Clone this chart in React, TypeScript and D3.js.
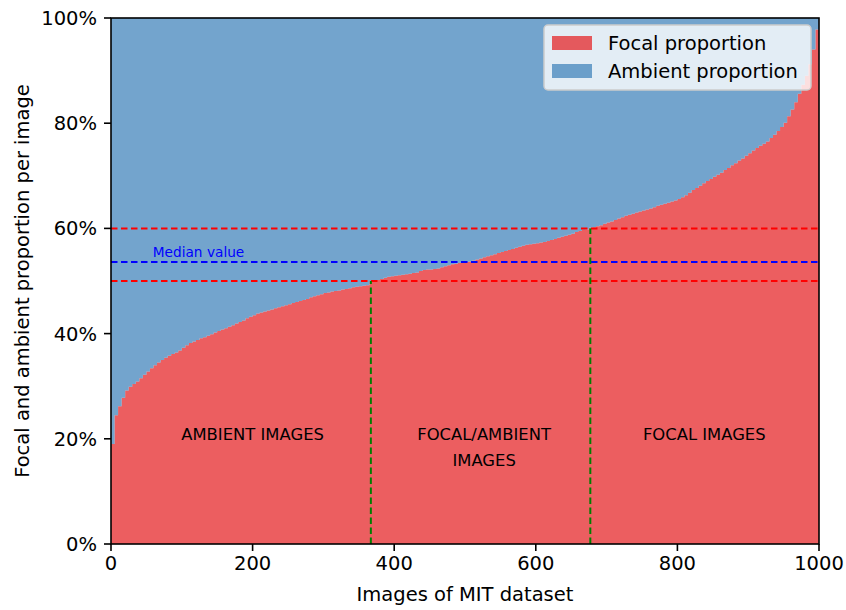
import * as React from "react";
import * as d3 from "d3";

// focal proportion (%) per image, sorted ascending, one value per 5-image bin
const BIN_SIZE = 5;
const focalPct: number[] = [
  19.0, 24.5, 26.2, 27.8, 29.2, 29.9, 30.4, 30.9, 31.5, 32.2,
  32.8, 33.4, 34.0, 34.5, 35.0, 35.4, 35.8, 36.1, 36.4, 36.8,
  37.3, 37.8, 38.2, 38.5, 38.8, 39.1, 39.3, 39.6, 39.9, 40.2,
  40.5, 40.8, 41.0, 41.3, 41.6, 41.9, 42.2, 42.5, 42.9, 43.2,
  43.5, 43.8, 44.0, 44.2, 44.4, 44.6, 44.8, 45.0, 45.2, 45.4,
  45.6, 45.8, 46.0, 46.2, 46.4, 46.6, 46.9, 47.1, 47.3, 47.5,
  47.7, 47.8, 48.0, 48.1, 48.2, 48.4, 48.5, 48.6, 48.8, 48.9,
  49.0, 49.1, 49.2, 50.0, 50.1, 50.2, 50.4, 50.6, 50.8, 50.9,
  51.0, 51.1, 51.2, 51.3, 51.4, 51.5, 51.6, 51.9, 52.1, 52.2,
  52.2, 52.3, 52.4, 52.6, 52.8, 53.0, 53.2, 53.3, 53.4, 53.5,
  53.6, 53.7, 53.9, 54.1, 54.3, 54.5, 54.7, 54.9, 55.1, 55.3,
  55.5, 55.7, 55.9, 56.1, 56.3, 56.5, 56.7, 56.9, 57.0, 57.1,
  57.2, 57.3, 57.4, 57.6, 57.8, 58.0, 58.2, 58.4, 58.6, 58.8,
  59.0, 59.3, 59.5, 59.7, 59.8, 60.1, 60.2, 60.4, 60.6, 60.9,
  61.1, 61.3, 61.6, 61.9, 62.1, 62.4, 62.6, 62.8, 63.0, 63.2,
  63.4, 63.6, 63.8, 64.0, 64.3, 64.5, 64.7, 64.9, 65.1, 65.3,
  65.6, 65.9, 66.3, 66.8, 67.3, 67.7, 68.1, 68.6, 69.0, 69.4,
  69.8, 70.2, 70.6, 71.1, 71.5, 72.0, 72.4, 72.9, 73.3, 73.8,
  74.3, 74.8, 75.3, 75.7, 76.1, 76.5, 77.2, 77.8, 78.5, 79.3,
  80.1, 81.3, 82.6, 84.0, 85.6, 87.3, 89.0, 91.2, 94.0, 97.8,
];

const xTicks = [0, 200, 400, 600, 800, 1000];
const yTicks = [0, 20, 40, 60, 80, 100];
const thresholds = [50, 60];
const medianValue = 53.6;
// boundaries where focal proportion crosses 50% and 60%
const splits: [number, number][] = [[367, 50], [677, 60]];

const RED = "#e41a1c";
const BLUE = "#377eb8";
const FONT = "DejaVu Sans, sans-serif";

export default function App() {
  const W = 846, H = 610;
  const left = 111, right = 819, top = 18, bottom = 544;

  const x = d3.scaleLinear().domain([0, 1000]).range([left, right]);
  const y = d3.scaleLinear().domain([0, 100]).range([bottom, top]);

  const pts = focalPct.map((v, i) => ({ i: i * BIN_SIZE, v }));
  pts.push({ i: focalPct.length * BIN_SIZE, v: focalPct[focalPct.length - 1] });

  const focalArea = d3.area<{ i: number; v: number }>()
    .curve(d3.curveStepAfter)
    .x((d) => x(d.i)).y0(y(0)).y1((d) => y(d.v));
  const ambientArea = d3.area<{ i: number; v: number }>()
    .curve(d3.curveStepAfter)
    .x((d) => x(d.i)).y0((d) => y(d.v)).y1(y(100));

  const dash = "6.5 3.5";

  return (
    <svg width={W} height={H} style={{ position: "absolute", left: 0, top: 0, background: "#fff" }}
      fontFamily={FONT}>
      <path d={focalArea(pts)!} fill={RED} fillOpacity={0.7} />
      <path d={ambientArea(pts)!} fill={BLUE} fillOpacity={0.7} />

      {thresholds.map((t) => (
        <line key={t} x1={left} x2={right} y1={y(t)} y2={y(t)} stroke="#ff0000" strokeWidth={2} strokeDasharray={dash} />
      ))}
      <line x1={left} x2={right} y1={y(medianValue)} y2={y(medianValue)} stroke="#0000ff" strokeWidth={2} strokeDasharray={dash} />
      {splits.map(([sx, sy]) => (
        <line key={sx} x1={x(sx)} x2={x(sx)} y1={y(0)} y2={y(sy)} stroke="#008000" strokeWidth={2} strokeDasharray={dash} />
      ))}

      <text x={x(59)} y={y(medianValue) - 5} fontSize={13.7} fill="#0000ff">Median value</text>

      <g fontSize={16.4} fill="#000" textAnchor="middle">
        <text x={x(200)} y={440}>AMBIENT IMAGES</text>
        <text x={x(527)} y={440}>FOCAL/AMBIENT</text>
        <text x={x(527)} y={466}>IMAGES</text>
        <text x={x(838)} y={440}>FOCAL IMAGES</text>
      </g>

      {/* frame */}
      <rect x={left} y={top} width={right - left} height={bottom - top} fill="none" stroke="#000" strokeWidth={1.6} />

      {/* x axis */}
      {xTicks.map((t) => (
        <g key={t}>
          <line x1={x(t)} x2={x(t)} y1={bottom} y2={bottom + 7} stroke="#000" strokeWidth={1.6} />
          <text x={x(t)} y={bottom + 26} fontSize={19.5} textAnchor="middle">{t}</text>
        </g>
      ))}
      <text x={(left + right) / 2} y={601} fontSize={19.5} textAnchor="middle">Images of MIT dataset</text>

      {/* y axis */}
      {yTicks.map((t) => (
        <g key={t}>
          <line x1={left - 7} x2={left} y1={y(t)} y2={y(t)} stroke="#000" strokeWidth={1.6} />
          <text x={97} y={y(t) + 7} fontSize={19.5} textAnchor="end">{t}%</text>
        </g>
      ))}
      <text transform={`translate(29,${(top + bottom) / 2}) rotate(-90)`} fontSize={19.5} textAnchor="middle">
        Focal and ambient proportion per image
      </text>

      {/* legend */}
      <g>
        <rect x={544} y={25} width={267} height={65} rx={4} fill="#fff" fillOpacity={0.8} stroke="#cccccc" strokeWidth={1.5} />
        <rect x={552} y={36} width={40} height={14} fill={RED} fillOpacity={0.7} />
        <rect x={552} y={64} width={40} height={14} fill={BLUE} fillOpacity={0.7} />
        <text x={608} y={50} fontSize={19.5}>Focal proportion</text>
        <text x={608} y={78} fontSize={19.5}>Ambient proportion</text>
      </g>
    </svg>
  );
}
